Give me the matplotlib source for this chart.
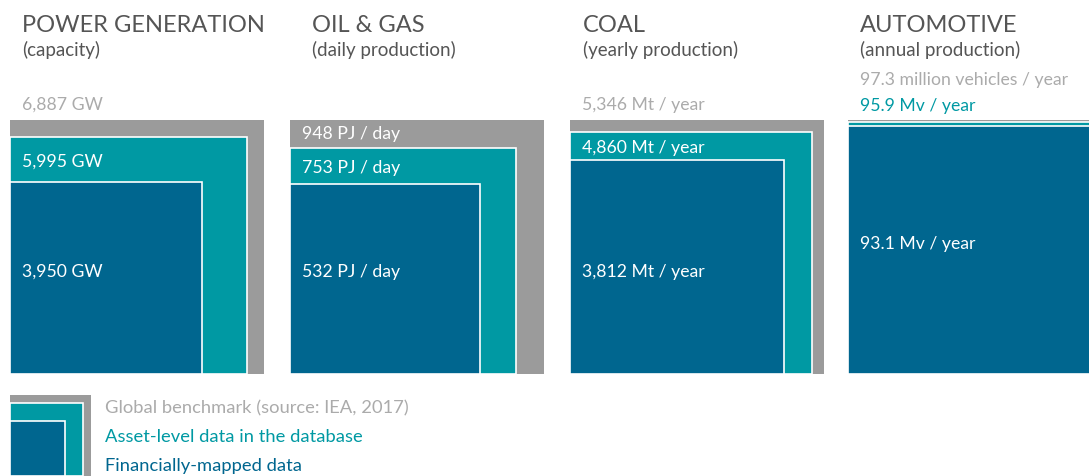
import numpy as np
import matplotlib
matplotlib.use('Agg')
from matplotlib import pyplot as plt
from matplotlib.patches import Rectangle

plt.rcParams['font.family'] = ['Lato', 'DejaVu Sans']

sectors = ['POWER GENERATION', 'OIL & GAS', 'COAL', 'AUTOMOTIVE']
subtitles = ['(capacity)', '(daily production)', '(yearly production)', '(annual production)']
benchmark = [6887, 948, 5346, 97.3]
asset_level = [5995, 753, 4860, 95.9]
financial = [3950, 532, 3812, 93.1]
benchmark_labels = ['6,887 GW', '948 PJ / day', '5,346 Mt / year', '97.3 million vehicles / year']
asset_labels = ['5,995 GW', '753 PJ / day', '4,860 Mt / year', '95.9 Mv / year']
financial_labels = ['3,950 GW', '532 PJ / day', '3,812 Mt / year', '93.1 Mv / year']
legend_labels = ['Global benchmark (source: IEA, 2017)', 'Asset-level data in the database',
                 'Financially-mapped data']

GRAY = '#9b9b9b'
TEAL = '#0099a3'
BLUE = '#00668f'
TITLE_C = '#555555'
LIGHT_C = '#ababab'

fig = plt.figure(figsize=(10.89, 4.76), dpi=100)
ax = fig.add_axes([0, 0, 1, 1])
ax.set_xlim(0, 1089)
ax.set_ylim(476, 0)
ax.axis('off')

# layout (pixels)
lefts = [10, 290, 570, 848]
title_x = [22, 312, 583, 860]
fin_label_y = [272, 272, 272, 244]
bottom = 374
full = 254  # side of the benchmark square
fs = 12.7

for i in range(4):
    x0 = lefts[i]
    sides = [full * np.sqrt(v / benchmark[i]) for v in (benchmark[i], asset_level[i], financial[i])]
    for s, c, lw in zip(sides, [GRAY, TEAL, BLUE], [0, 1.2, 1.2]):
        ax.add_patch(Rectangle((x0, bottom - s), s, s, facecolor=c,
                               edgecolor='white', linewidth=lw))
    ax.text(title_x[i], 25, sectors[i], fontsize=17, color=TITLE_C, va='center')
    ax.text(title_x[i], 50, subtitles[i], fontsize=13.5, color=TITLE_C, va='center')

    tx = x0 + 12
    g_top = bottom - sides[0]
    t_top = bottom - sides[1]
    b_top = bottom - sides[2]
    # benchmark label
    if i == 1:
        ax.text(tx, (g_top + t_top) / 2, benchmark_labels[i], fontsize=fs, color='white', va='center')
    elif i == 3:
        ax.text(tx, 80, benchmark_labels[i], fontsize=fs, color=LIGHT_C, va='center')
    else:
        ax.text(tx, 105, benchmark_labels[i], fontsize=fs, color=LIGHT_C, va='center')
    # asset-level label
    if i == 3:
        ax.text(tx, 106, asset_labels[i], fontsize=fs, color=TEAL, va='center')
    else:
        ax.text(tx, (t_top + b_top) / 2 + 2, asset_labels[i], fontsize=fs, color='white', va='center')
    # financial label
    ax.text(tx, fin_label_y[i], financial_labels[i], fontsize=fs, color='white', va='center')

# legend
lx, lbot = 10, 476
lside = 81
for frac, c, lw in zip([1.0, 0.9, 0.68], [GRAY, TEAL, BLUE], [0, 1.2, 1.2]):
    s = lside * frac
    ax.add_patch(Rectangle((lx, lbot - s), s, s, facecolor=c, edgecolor='white', linewidth=lw))
for y, t, c in zip([408, 437, 466], legend_labels, [LIGHT_C, TEAL, BLUE]):
    ax.text(105, y, t, fontsize=13.2, color=c, va='center')

fig.savefig('out.png', dpi=100)
